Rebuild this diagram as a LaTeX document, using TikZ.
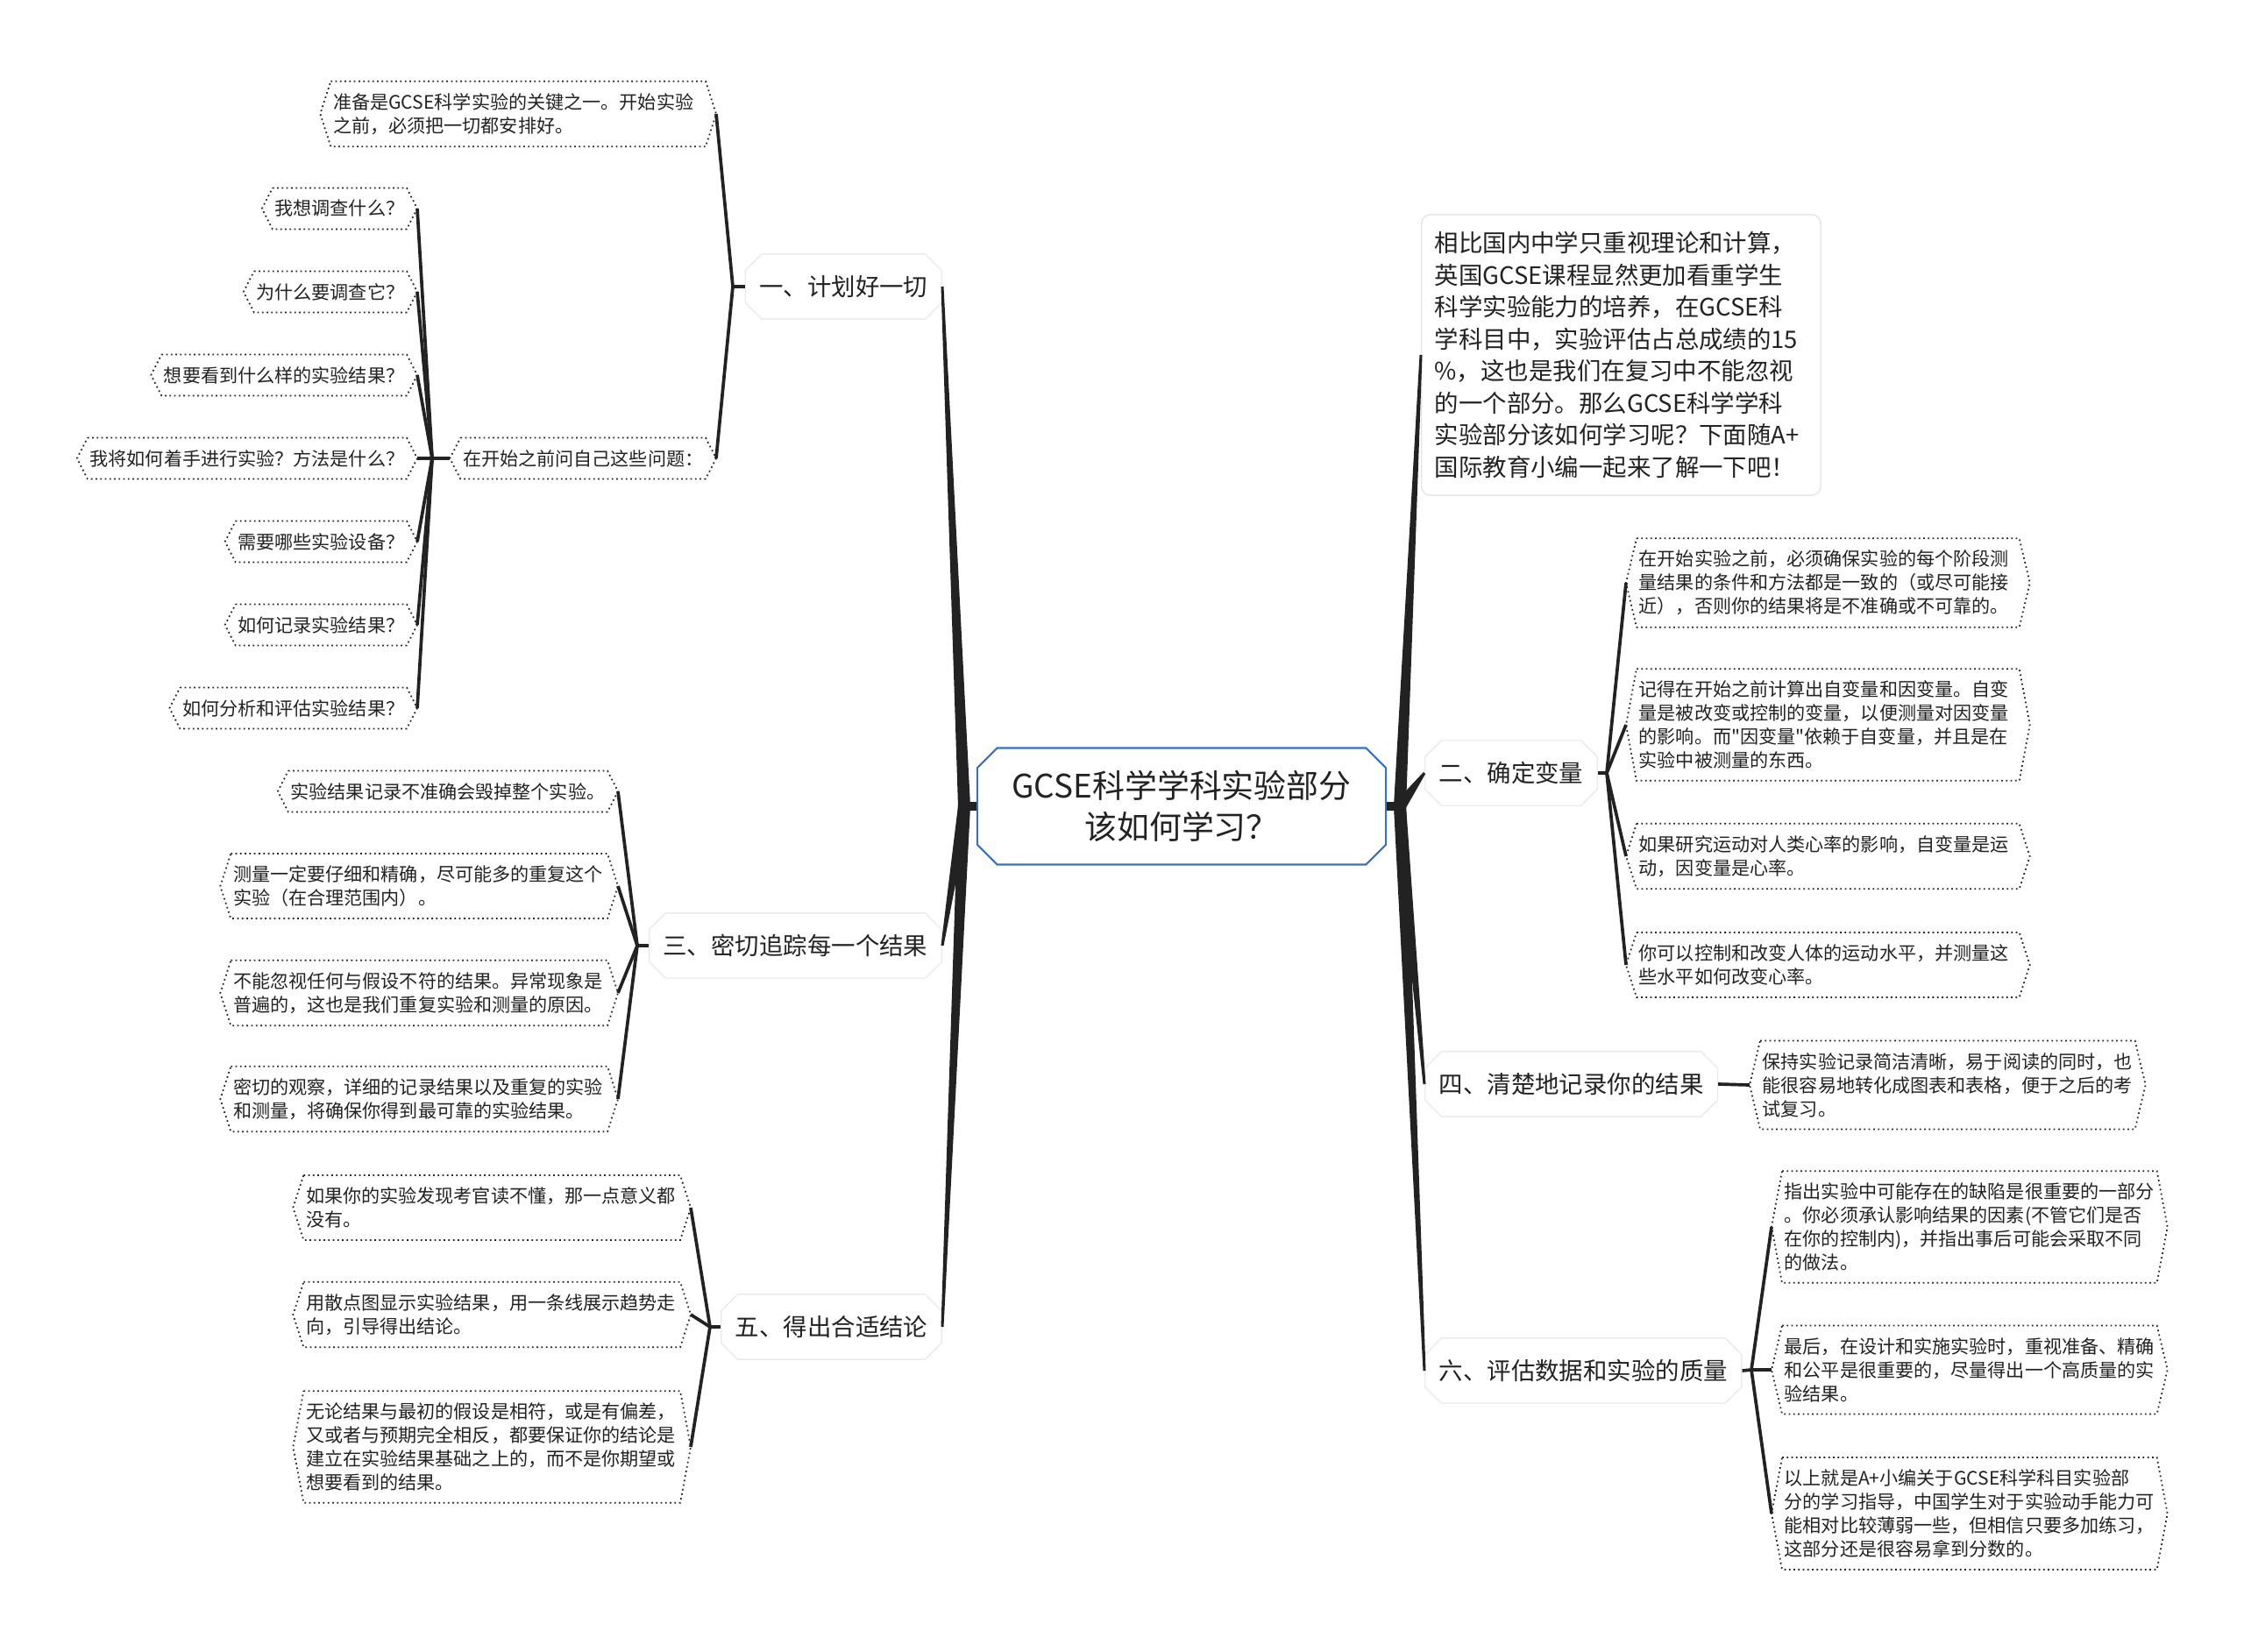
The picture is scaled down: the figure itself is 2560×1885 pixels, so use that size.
\documentclass[tikz,border=0pt]{standalone}
\usepackage{fontspec}
\setmainfont{Noto Sans CJK SC}[Ligatures=TeXOff]
\usetikzlibrary{calc,shapes.misc}
\definecolor{ink}{HTML}{222222}
\definecolor{rootblue}{HTML}{3A72BA}
\newcommand\trunkline[2]{\fill[trunk] ($(#1)!0.07cm!90:(#2)$) -- ($(#2)!0.015cm!-90:(#1)$) -- ($(#2)!0.015cm!90:(#1)$) -- ($(#1)!0.07cm!-90:(#2)$) -- cycle;}

\begin{document}
\begin{tikzpicture}[x=0.01cm,y=-0.01cm]
	\tikzset{
		trunk/.style={fill=ink},
		twig/.style={draw=ink,line width=1.05pt},
		leaf/.style={font=\fontsize{6}{7.65}\selectfont,text=ink,align=left,inner xsep=0.02cm,inner ysep=0.13cm},
		hexline/.style={draw=black!85,densely dotted,line width=0.5pt},
		branch/.style={chamfered rectangle,chamfered rectangle xsep=0.06cm,draw=black!8,font=\fontsize{7.8}{9}\selectfont,text=ink,inner xsep=0.1cm,minimum height=0.55cm},
	}
	\def\tip{0.12cm}

	\useasboundingbox[fill=white] (0,0) rectangle (2560,1885);

	\node[chamfered rectangle,chamfered rectangle xsep=0.1cm,draw=rootblue,line width=0.6pt,minimum width=4.66cm,minimum height=1.33cm,align=center,font=\fontsize{10.5}{13.3}\selectfont,text=ink] (root) at (1348,920) {GCSE科学学科实验部分\\该如何学习？};

	\node[branch,anchor=east] (plan) at (1075,327) {一、计划好一切};
	\node[branch,anchor=east] (track) at (1075,1079) {三、密切追踪每一个结果};
	\node[branch,anchor=east] (concl) at (1075,1514) {五、得出合适结论};
	\node[branch,anchor=west] (vars) at (1625,882) {二、确定变量};
	\node[branch,anchor=west] (record) at (1625,1237) {四、清楚地记录你的结果};
	\node[branch,anchor=west] (eval) at (1625,1564) {六、评估数据和实验的质量};

	\node[rounded corners=0.1cm,draw=black!10,anchor=west,minimum width=4.55cm,minimum height=3.2cm,inner xsep=0.15cm,text width=4.25cm,align=left,font=\fontsize{7.8}{10.4}\selectfont,text=ink] (intro) at (1621,405) {相比国内中学只重视理论和计算，\\英国GCSE课程显然更加看重学生\\科学实验能力的培养，在GCSE科\\学科目中，实验评估占总成绩的15\\\%，这也是我们在复习中不能忽视\\的一个部分。那么GCSE科学学科\\实验部分该如何学习呢？下面随A+\\国际教育小编一起来了解一下吧！};

	\node[leaf,anchor=east,text width=4.22cm] (prep) at (805,130) {准备是GCSE科学实验的关键之一。开始实验\\之前，必须把一切都安排好。};
	\node[leaf,anchor=east] (ask) at (805,523) {在开始之前问自己这些问题：};
	\node[leaf,anchor=east] (q1) at (464,238) {我想调查什么？};
	\node[leaf,anchor=east] (q2) at (464,333) {为什么要调查它？};
	\node[leaf,anchor=east] (q3) at (464,428) {想要看到什么样的实验结果？};
	\node[leaf,anchor=east] (q4) at (464,523) {我将如何着手进行实验？方法是什么？};
	\node[leaf,anchor=east] (q5) at (464,618) {需要哪些实验设备？};
	\node[leaf,anchor=east] (q6) at (464,713) {如何记录实验结果？};
	\node[leaf,anchor=east] (q7) at (464,808) {如何分析和评估实验结果？};

	\node[leaf,anchor=east] (t1) at (693,903) {实验结果记录不准确会毁掉整个实验。};
	\node[leaf,anchor=east,text width=4.24cm] (t2) at (693,1011) {测量一定要仔细和精确，尽可能多的重复这个\\实验（在合理范围内）。};
	\node[leaf,anchor=east,text width=4.24cm] (t3) at (693,1133) {不能忽视任何与假设不符的结果。异常现象是\\普遍的，这也是我们重复实验和测量的原因。};
	\node[leaf,anchor=east,text width=4.24cm] (t4) at (693,1254) {密切的观察，详细的记录结果以及重复的实验\\和测量，将确保你得到最可靠的实验结果。};

	\node[leaf,anchor=east,text width=4.24cm] (f1) at (776,1378) {如果你的实验发现考官读不懂，那一点意义都\\没有。};
	\node[leaf,anchor=east,text width=4.24cm] (f2) at (776,1500) {用散点图显示实验结果，用一条线展示趋势走\\向，引导得出结论。};
	\node[leaf,anchor=east,text width=4.24cm] (f3) at (776,1651) {无论结果与最初的假设是相符，或是有偏差，\\又或者与预期完全相反，都要保证你的结论是\\建立在实验结果基础之上的，而不是你期望或\\想要看到的结果。};

	\node[leaf,anchor=west,text width=4.31cm] (r1) at (1867,665) {在开始实验之前，必须确保实验的每个阶段测\\量结果的条件和方法都是一致的（或尽可能接\\近），否则你的结果将是不准确或不可靠的。};
	\node[leaf,anchor=west,text width=4.31cm] (r2) at (1867,827) {记得在开始之前计算出自变量和因变量。自变\\量是被改变或控制的变量，以便测量对因变量\\的影响。而"因变量"依赖于自变量，并且是在\\实验中被测量的东西。};
	\node[leaf,anchor=west,text width=4.31cm] (r3) at (1867,977) {如果研究运动对人类心率的影响，自变量是运\\动，因变量是心率。};
	\node[leaf,anchor=west,text width=4.31cm] (r4) at (1867,1101) {你可以控制和改变人体的运动水平，并测量这\\些水平如何改变心率。};

	\node[leaf,anchor=west,text width=4.22cm] (w1) at (2008,1238) {保持实验记录简洁清晰，易于阅读的同时，也\\能很容易地转化成图表和表格，便于之后的考\\试复习。};

	\node[leaf,anchor=west,text width=4.22cm] (s1) at (2033,1400) {指出实验中可能存在的缺陷是很重要的一部分\\。你必须承认影响结果的因素(不管它们是否\\在你的控制内)，并指出事后可能会采取不同\\的做法。};
	\node[leaf,anchor=west,text width=4.22cm] (s2) at (2033,1563) {最后，在设计和实施实验时，重视准备、精确\\和公平是很重要的，尽量得出一个高质量的实\\验结果。};
	\node[leaf,anchor=west,text width=4.22cm] (s3) at (2033,1727) {以上就是A+小编关于GCSE科学科目实验部\\分的学习指导，中国学生对于实验动手能力可\\能相对比较薄弱一些，但相信只要多加练习，\\这部分还是很容易拿到分数的。};

	\foreach \n in {prep,ask,q1,q2,q3,q4,q5,q6,q7,t1,t2,t3,t4,f1,f2,f3,r1,r2,r3,r4,w1,s1,s2,s3}
		\draw[hexline] (\n.north west) -- (\n.north east) -- ([xshift=\tip]\n.east) -- (\n.south east) -- (\n.south west) -- ([xshift=-\tip]\n.west) -- cycle;

	\coordinate (lhub) at (1100,920);
	\coordinate (rhub) at (1597,920);
	\coordinate (hplan) at (836,327);
	\coordinate (hask) at (493,523);
	\coordinate (htrack) at (727,1079);
	\coordinate (hconcl) at (810,1514);
	\coordinate (hvars) at (1833,882);
	\coordinate (heval) at (1998,1563);

	\draw[ink,line width=2.8pt] (root.west) -- (lhub);
	\draw[ink,line width=2.8pt] (root.east) -- (rhub);
	\trunkline{lhub}{plan.east}
	\trunkline{lhub}{track.east}
	\trunkline{lhub}{concl.east}
	\trunkline{rhub}{intro.west}
	\trunkline{rhub}{vars.west}
	\trunkline{rhub}{record.west}
	\trunkline{rhub}{eval.west}

	\draw[twig] (plan.west) -- (hplan);
	\foreach \n in {prep,ask}
		\draw[twig] (hplan) -- ([xshift=\tip]\n.east);
	\draw[twig] ([xshift=-\tip]ask.west) -- (hask);
	\foreach \n in {q1,q2,q3,q4,q5,q6,q7}
		\draw[twig] (hask) -- ([xshift=\tip]\n.east);

	\draw[twig] (track.west) -- (htrack);
	\foreach \n in {t1,t2,t3,t4}
		\draw[twig] (htrack) -- ([xshift=\tip]\n.east);

	\draw[twig] (concl.west) -- (hconcl);
	\foreach \n in {f1,f2,f3}
		\draw[twig] (hconcl) -- ([xshift=\tip]\n.east);

	\draw[twig] (vars.east) -- (hvars);
	\foreach \n in {r1,r2,r3,r4}
		\draw[twig] (hvars) -- ([xshift=-\tip]\n.west);

	\draw[twig] (record.east) -- ([xshift=-\tip]w1.west);

	\draw[twig] (eval.east) -- (heval);
	\foreach \n in {s1,s2,s3}
		\draw[twig] (heval) -- ([xshift=-\tip]\n.west);

\end{tikzpicture}
\end{document}
